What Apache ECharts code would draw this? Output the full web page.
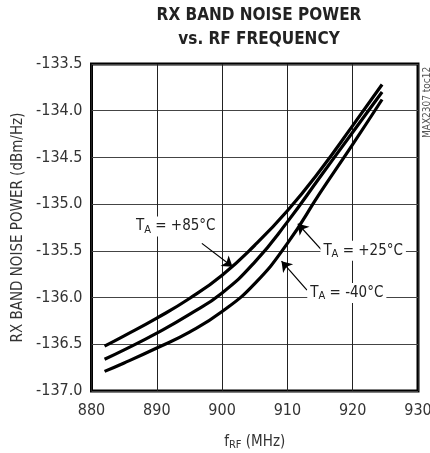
<!DOCTYPE html>
<html>
<head>
<meta charset="utf-8">
<script src="https://cdn.jsdelivr.net/npm/echarts@6/dist/echarts.min.js"></script>
<style>
html,body{margin:0;padding:0;background:#fff;}
#c{width:430px;height:453px;}
</style>
</head>
<body>
<div id="c"></div>
<script>
// ---- data ----
var freqMHz = [882, 885, 890, 895, 900, 905, 910, 915, 920, 924.5];
var noise85 = [-136.52, -136.41, -136.22, -136.01, -135.76, -135.44, -135.07, -134.64, -134.16, -133.72];
var noise25 = [-136.66, -136.56, -136.38, -136.18, -135.95, -135.62, -135.19, -134.71, -134.23, -133.80];
var noiseM40 = [-136.79, -136.70, -136.54, -136.37, -136.15, -135.85, -135.42, -134.88, -134.36, -133.88];
var xTicks = [880, 890, 900, 910, 920, 930];
var yTicks = [-137.0, -136.5, -136.0, -135.5, -135.0, -134.5, -134.0, -133.5];
var tempLabels = ['+85', '+25', '-40'];
// annotation anchors in data units: label centre, arrow start, arrow tip
var labelPos = [[892.9, -135.24], [921.6, -135.50], [919.1, -135.95]];
var arrowFrom = [[896.9, -135.42], [915.5, -135.51], [913.0, -135.92]];
var arrowTo = [[901.6, -135.67], [911.6, -135.21], [909.1, -135.61]];

var FONT = '"Liberation Sans Narrow", "DejaVu Sans Condensed", "Liberation Sans", sans-serif';

function pairs(ys) { return freqMHz.map(function (x, i) { return [x, ys[i]]; }); }

var seriesData = [noise85, noise25, noiseM40];
var series = seriesData.map(function (ys, i) {
  return {
    type: 'line',
    data: pairs(ys),
    smooth: 0.5,
    symbol: 'none',
    lineStyle: { color: '#000', width: 3.2 },
    z: 3,
    markLine: {
      silent: true,
      symbol: ['none', 'arrow'],
      symbolSize: 10,
      lineStyle: { color: '#000', width: 1.2, type: 'solid' },
      label: { show: false },
      data: [[{ coord: arrowFrom[i] }, { coord: arrowTo[i] }]]
    },
    markPoint: {
      silent: true,
      symbol: 'circle',
      symbolSize: 1,
      itemStyle: { color: 'rgba(0,0,0,0)' },
      label: {
        show: true,
        position: 'inside',
        backgroundColor: '#fff',
        padding: [1, 3, 1, 3],
        formatter: '{t|T}{s|A}{t| = ' + tempLabels[i] + '°C}',
        rich: {
          t: { fontFamily: FONT, fontSize: 15, color: '#222' },
          s: { fontFamily: FONT, fontSize: 11, color: '#222', padding: [7, 0, 0, 0] }
        }
      },
      data: [{ coord: labelPos[i] }]
    }
  };
});

var chart = echarts.init(document.getElementById('c'), null, { renderer: 'canvas' });
chart.setOption({
  animation: false,
  backgroundColor: '#fff',
  title: {
    text: 'RX BAND NOISE POWER\nvs. RF FREQUENCY',
    left: 254,
    top: -1,
    textAlign: 'center',
    textStyle: { fontFamily: FONT, fontWeight: 'bold', fontSize: 17, lineHeight: 24, color: '#222' }
  },
  grid: {
    left: 91.5, right: 12, top: 64, bottom: 62,
    containLabel: false,
    outerBoundsMode: 'none',
    show: true, borderColor: '#000', borderWidth: 3, backgroundColor: 'transparent'
  },
  xAxis: {
    type: 'value',
    min: xTicks[0], max: xTicks[xTicks.length - 1], interval: 10,
    axisLine: { show: false },
    axisTick: { show: false },
    splitLine: { show: true, lineStyle: { color: '#222', width: 1 } },
    axisLabel: { fontFamily: FONT, fontSize: 16, color: '#333', margin: 12 },
    name: '{f|f}{s|RF}{f| (MHz)}',
    nameLocation: 'middle',
    nameGap: 42,
    nameTextStyle: {
      rich: {
        f: { fontFamily: FONT, fontSize: 15, color: '#333' },
        s: { fontFamily: FONT, fontSize: 11, color: '#333', padding: [7, 0, 0, 0] }
      }
    }
  },
  yAxis: {
    type: 'value',
    min: yTicks[0], max: yTicks[yTicks.length - 1], interval: 0.5,
    axisLine: { show: false },
    axisTick: { show: false },
    splitLine: { show: true, lineStyle: { color: '#444', width: 1 } },
    axisLabel: {
      fontFamily: FONT, fontSize: 16, color: '#333', margin: 9,
      formatter: function (v) { return v.toFixed(1); }
    },
    name: 'RX BAND NOISE POWER (dBm/Hz)',
    nameLocation: 'middle',
    nameGap: 62,
    nameTextStyle: { fontFamily: FONT, fontSize: 15, color: '#333' }
  },
  graphic: [{
    type: 'text',
    x: 422, y: 138,
    rotation: Math.PI / 2,
    style: { text: 'MAX2307 toc12', fontFamily: FONT, fontSize: 10, fill: '#555' }
  }],
  series: series
});
</script>
</body>
</html>
